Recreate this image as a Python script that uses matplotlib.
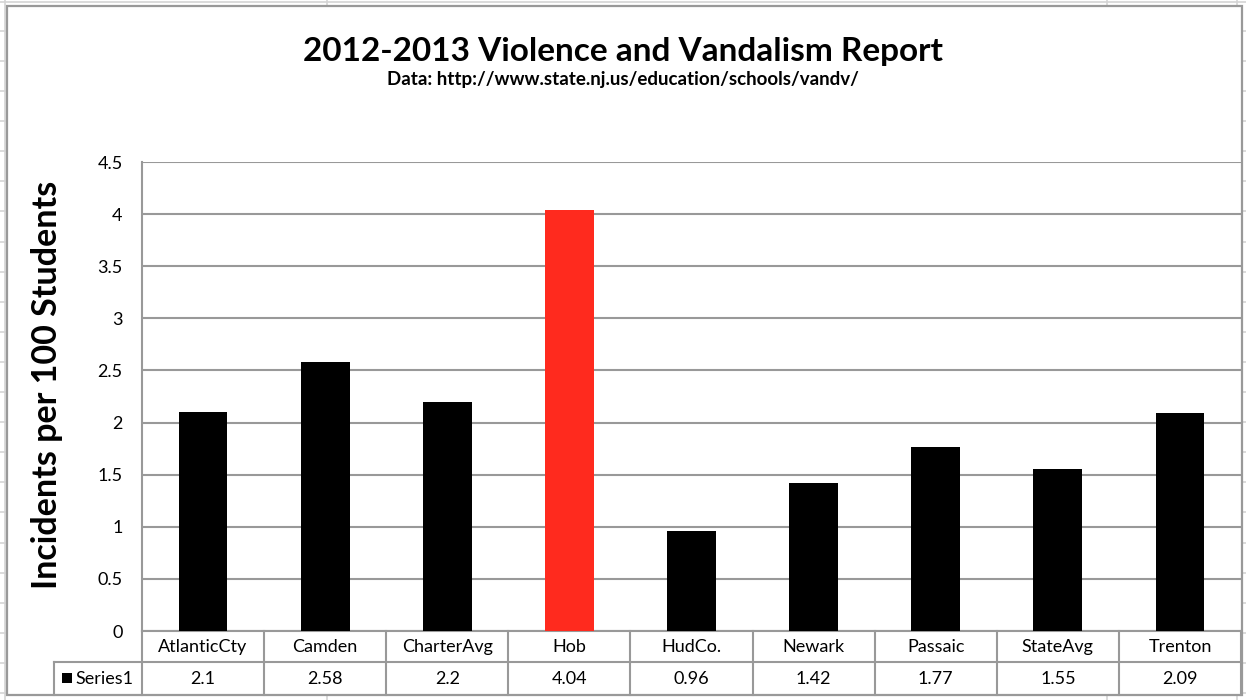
import matplotlib
matplotlib.use("Agg")
import matplotlib.pyplot as plt
from matplotlib.patches import Rectangle
from matplotlib.lines import Line2D
import matplotlib.transforms as mtransforms

categories = ["AtlanticCty", "Camden", "CharterAvg", "Hob", "HudCo.", "Newark", "Passaic", "StateAvg", "Trenton"]
values = [2.1, 2.58, 2.2, 4.04, 0.96, 1.42, 1.77, 1.55, 2.09]
value_labels = ["2.1", "2.58", "2.2", "4.04", "0.96", "1.42", "1.77", "1.55", "2.09"]
highlight = "Hob"
series_name = "Series1"
yticks = [0, 0.5, 1, 1.5, 2, 2.5, 3, 3.5, 4, 4.5]
ytick_labels = ["0", "0.5", "1", "1.5", "2", "2.5", "3", "3.5", "4", "4.5"]

plt.rcParams['font.family'] = ['Lato', 'DejaVu Sans']

W, H = 1246, 700
fig = plt.figure(figsize=(W / 100, H / 100), dpi=100)
fig.patch.set_facecolor("white")

def fx(px):
    return px / W

def fy(py):
    return 1 - py / H

# spreadsheet grid behind the chart
cell_grey = "#d4d4d4"
for yy in [1.5] + [0.7 + 30.1 * k for k in range(1, 24)]:
    fig.add_artist(Line2D([0, 1], [fy(yy), fy(yy)], transform=fig.transFigure,
                          color=cell_grey, lw=1.2, zorder=0))
for xx in [4.5, 327, 1107, 1237]:
    fig.add_artist(Line2D([fx(xx), fx(xx)], [0, 1], transform=fig.transFigure,
                          color=cell_grey, lw=1.2, zorder=0))

# chart frame
fig.add_artist(Rectangle((fx(6.5), fy(695)), fx(1241.5) - fx(6.5), fy(5.5) - fy(695),
                         transform=fig.transFigure, facecolor="white",
                         edgecolor="#999999", lw=1.6, zorder=1))

L, R, T, B = 142, 1241, 162, 631
ax = fig.add_axes([fx(L), fy(B), fx(R) - fx(L), fy(T) - fy(B)], zorder=2)
ax.set_facecolor("none")

x = list(range(len(categories)))
colors = ["#FF2A1E" if c == highlight else "black" for c in categories]
ax.bar(x, values, width=0.40, color=colors, zorder=3)

ax.set_xlim(-0.5, len(categories) - 0.5)
ax.set_ylim(0, 4.5)
ax.set_yticks(yticks)
ax.set_yticklabels(ytick_labels, fontsize=13)
ax.yaxis.grid(True, color="#999999", lw=1.5, zorder=0)
ax.set_axisbelow(True)
ax.tick_params(axis="y", length=0, pad=14)
ax.tick_params(axis="x", length=0, labelbottom=False)
for s in ["top", "right"]:
    ax.spines[s].set_visible(False)
ax.spines["left"].set_color("#999999")
ax.spines["left"].set_linewidth(1.5)
ax.spines["bottom"].set_color("#999999")
ax.spines["bottom"].set_linewidth(1.5)

# data table below the axis
trans = mtransforms.blended_transform_factory(ax.transData, ax.transAxes)
ph = B - T
def ay(py):
    return (B - py) / ph

row1_mid = ay(647)
row2_mid = ay(679)
line_mid = ay(662)
line_bot = ay(695)
grey = "#999999"
for i, (c, v) in enumerate(zip(categories, value_labels)):
    ax.text(i, row1_mid, c, transform=trans, ha="center", va="center", fontsize=13, clip_on=False)
    ax.text(i, row2_mid, v, transform=trans, ha="center", va="center", fontsize=13, clip_on=False)
for k in range(len(categories) + 1):
    xe = k - 0.5
    ax.add_line(Line2D([xe, xe], [0, line_bot], transform=trans, color=grey, lw=1.5, clip_on=False))
ax.add_line(Line2D([-0.5 - 88 / 122.1, len(categories) - 0.5], [line_mid, line_mid],
                   transform=trans, color=grey, lw=1.5, clip_on=False))
xl = -0.5 - 88 / 122.1
ax.add_line(Line2D([xl, xl], [line_mid, line_bot], transform=trans, color=grey, lw=1.5, clip_on=False))
ax.add_patch(Rectangle((-0.5 - 80 / 122.1, ay(683)), 10 / 122.1, ay(673) - ay(683),
                       transform=trans, facecolor="black", edgecolor="none", clip_on=False))
ax.text(-0.5 - 67 / 122.1, row2_mid, series_name, transform=trans, ha="left", va="center",
        fontsize=13, clip_on=False)

# titles
fig.text(fx(623), fy(51), "2012-2013 Violence and Vandalism Report", ha="center", va="center",
         fontsize=24, fontweight="bold")
fig.text(fx(623), fy(80), "Data: http://www.state.nj.us/education/schools/vandv/", ha="center",
         va="center", fontsize=13.5, fontweight="bold")
fig.text(fx(47), fy(385), "Incidents per 100 Students", ha="center", va="center", rotation=90,
         fontsize=24.5, fontweight="bold")

fig.savefig("out.png", dpi=100, facecolor="white")
